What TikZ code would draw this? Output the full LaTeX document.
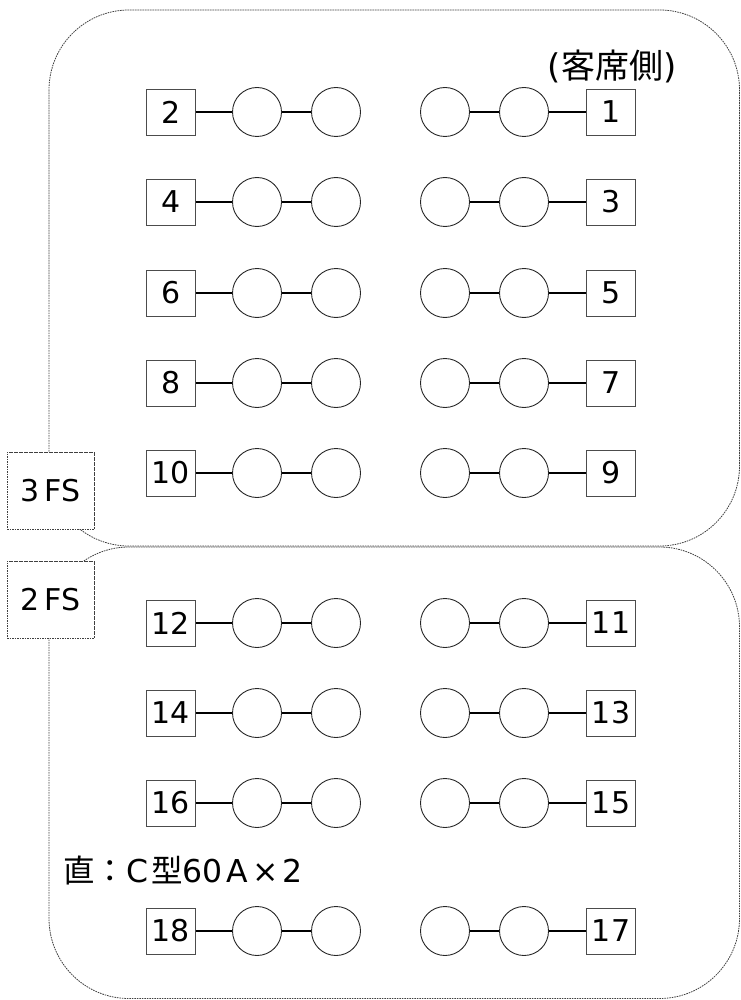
\documentclass[tikz,border=0pt]{standalone}
\usepackage{fontspec}
\setmainfont{DejaVu Sans}
\newfontfamily\cjk{Noto Sans CJK JP}
\begin{document}
\begin{tikzpicture}[x=1pt,y=-1pt,
  outline/.style={draw=black!75,line width=0.8pt,dash pattern=on 1.6pt off 0.9pt,rounded corners=80pt},
  fsbox/.style={draw=black!75,fill=white,line width=0.8pt,dash pattern=on 1.6pt off 0.9pt,minimum width=87pt,minimum height=77pt,inner sep=0pt,font=\fontsize{30}{32}\selectfont},
  numbox/.style={draw=black!70,line width=0.8pt,minimum width=49pt,minimum height=46pt,inner sep=0pt,font=\fontsize{30}{31}\selectfont},
  disc/.style={draw=black!85,line width=0.9pt,circle,minimum size=49pt,inner sep=0pt},
  link/.style={line width=2.6pt,black},
  lbl/.style={inner sep=0pt,font=\fontsize{31.5}{34}\selectfont}]
\useasboundingbox (0,0) rectangle (740,1000);
% outlines
\draw[outline] (49,10) rectangle (739.5,546);
\draw[outline] (49,547) rectangle (739.5,998.5);
% floor labels
\node[fsbox] (fs3) at (50.5,490.5) {3\hspace{5pt}FS};
\node[fsbox] (fs2) at (50.5,599.5) {2\hspace{5pt}FS};
% rows
\foreach \y/\l/\r in {112/2/1,202/4/3,293/6/5,383/8/7,473/10/9,623/12/11,713/14/13,803/16/15,931/18/17}{
  \node[numbox] (L\l) at (171,\y) {\l};
  \node[disc] (La\l) at (257,\y) {};
  \node[disc] (Lb\l) at (336,\y) {};
  \node[disc] (Ra\r) at (445,\y) {};
  \node[disc] (Rb\r) at (524,\y) {};
  \node[numbox] (R\r) at (611,\y) {\r};
  \draw[link] (L\l) -- (La\l) -- (Lb\l);
  \draw[link] (Ra\r) -- (Rb\r) -- (R\r);
}
\node[lbl,font=\fontsize{34}{36}\selectfont] (side) at (612,66) {({\cjk 客席側})};
\node[lbl,anchor=west] (note) at (63,870) {{\cjk 直：}C\hspace{3pt}{\cjk 型}60\hspace{4pt}A\hspace{4pt}×\hspace{4pt}2};
\end{tikzpicture}
\end{document}
